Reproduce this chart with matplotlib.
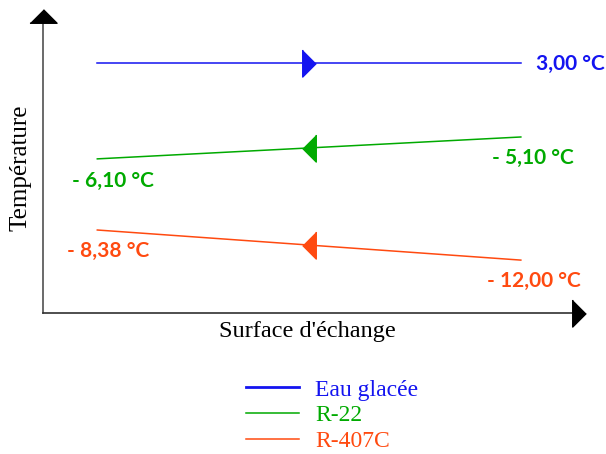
import matplotlib
matplotlib.use("Agg")
import matplotlib.pyplot as plt
import numpy as np

# schematic positions (fraction of the axes), one pair of ends per fluid
fluids = ["Eau glacée", "R-22", "R-407C"]
colors = ["#1414F0", "#00AA00", "#FF4A10"]
x_ends = [0.10, 0.88]
y_left = [0.822, 0.507, 0.273]
y_right = [0.822, 0.579, 0.174]
flow = [">", "<", "<"]          # direction of the flow
temp_left = ["", "- 6,10 °C", "- 8,38 °C"]
temp_right = ["3,00 °C", "- 5,10 °C", "- 12,00 °C"]

# label offsets in pixels from the line ends
off_left = [(0, 0), (-25, -22), (-30, -21)]
off_right = [(15, -1), (53, -21), (60, -21)]

W, H = 606, 454
fig = plt.figure(figsize=(W / 100, H / 100), dpi=100)
ax = fig.add_axes([43 / W, 1 - 313 / H, 543 / W, 304 / H])
ax.set_xlim(0, 1)
ax.set_ylim(0, 1)
ax.axis("off")

serif = "Liberation Serif"
sans = "Lato"

# axes with arrow heads
up = [(-1, -0.5), (1, -0.5), (0, 0.5)]
right = [(-0.5, 1), (-0.5, -1), (0.5, 0)]
left = [(0.5, 1), (0.5, -1), (-0.5, 0)]
ax.plot([0, 0], [0, 0.977], color="#505050", lw=1.2, clip_on=False)
ax.plot([0, 0.987], [0, 0], color="#303030", lw=1.2, clip_on=False)
ax.plot(0, 0.977, marker=up, ms=19.5, color="black", clip_on=False)
ax.plot(0.987, 0, marker=right, ms=19.5, color="black", clip_on=False)

handles = []
for i in range(len(fluids)):
    ys = [y_left[i], y_right[i]]
    ln, = ax.plot(x_ends, ys, color=colors[i], lw=1.1, label=fluids[i])
    handles.append(ln)
    xm = np.mean(x_ends)
    ym = np.interp(xm, x_ends, ys)
    mk = right if flow[i] == ">" else left
    ax.plot(xm, ym, marker=mk, ms=19.5, color=colors[i], clip_on=False)

    ha_r = "left" if i == 0 else "right"
    ax.annotate(temp_right[i], (x_ends[1], y_right[i]), xytext=off_right[i],
                textcoords="offset pixels", ha=ha_r, va="center",
                color=colors[i], fontsize=15, fontfamily=sans, fontweight="bold")
    if temp_left[i]:
        ax.annotate(temp_left[i], (x_ends[0], y_left[i]), xytext=off_left[i],
                    textcoords="offset pixels", ha="left", va="center",
                    color=colors[i], fontsize=15, fontfamily=sans, fontweight="bold")

ax.text(-0.041, 0.477, "Température", rotation=90, ha="center", va="center",
        fontsize=18, fontfamily=serif, clip_on=False)
ax.text(0.486, -0.062, "Surface d'échange", ha="center", va="center",
        fontsize=17.5, fontfamily=serif, clip_on=False)

leg = fig.legend(handles=handles, loc="upper left",
                 bbox_to_anchor=(246 / W, 1 - 379 / H), frameon=False,
                 prop={"family": serif, "size": 17}, labelcolor="linecolor",
                 handlelength=2.25, handletextpad=0.68, labelspacing=0.18,
                 borderpad=0, borderaxespad=0)
leg.legend_handles[0].set_linewidth(2.0)

fig.savefig("out.png", dpi=100)
